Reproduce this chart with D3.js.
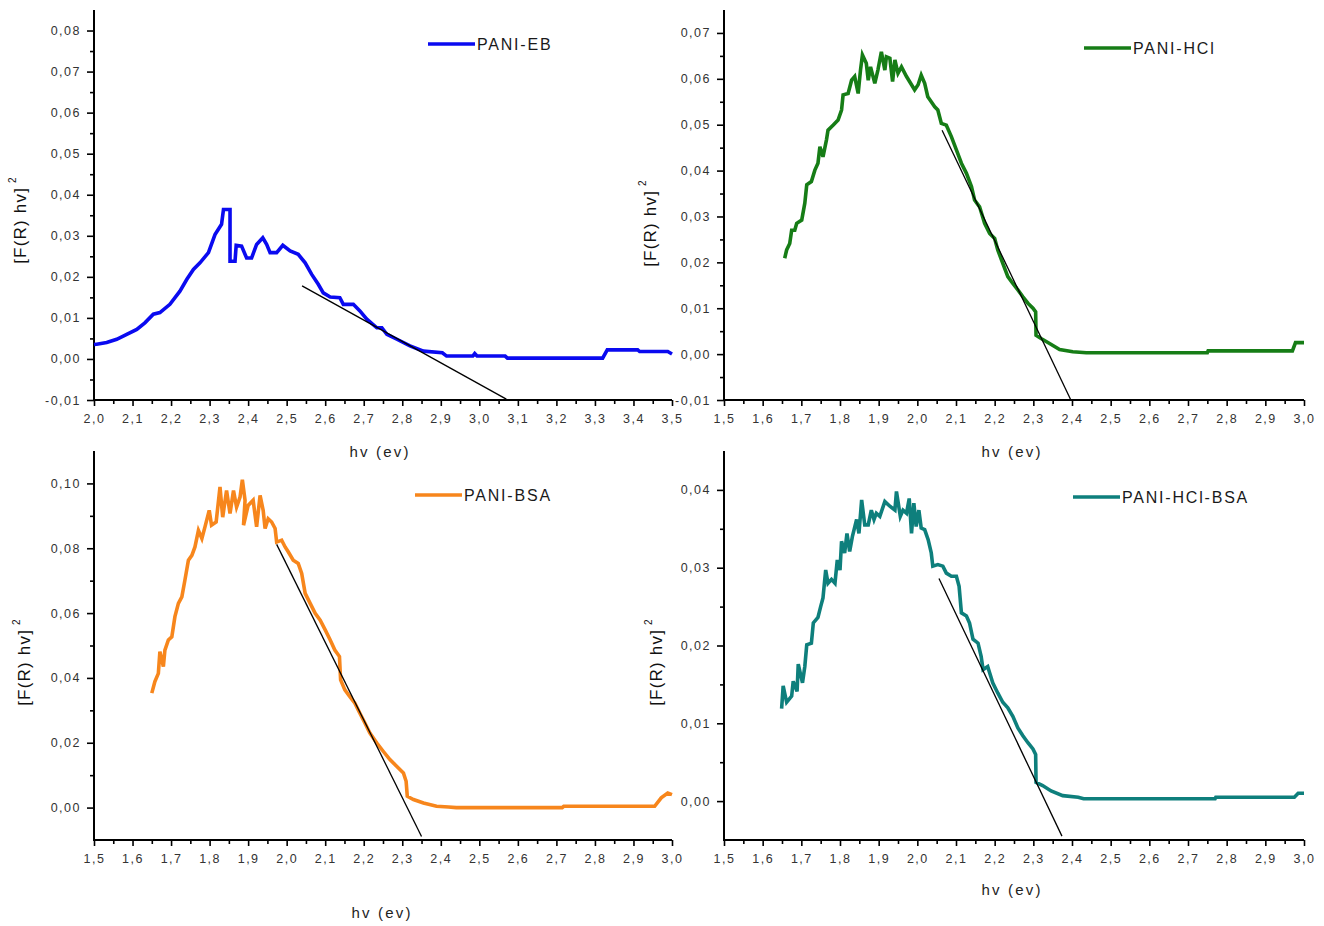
<!DOCTYPE html>
<html>
<head>
<meta charset="utf-8">
<script src="https://cdn.jsdelivr.net/npm/d3@7"></script>
<style>
  body { margin: 0; background: #fff; }
  svg { display: block; font-family: Arial, "Liberation Sans", sans-serif; }
</style>
</head>
<body>
<div id="chart"></div>
<script>
// ---- data: [hv (eV), [F(R) hv]^2] ----
const paniEB = [
  [2.000,0.0035],[2.007,0.0036],[2.033,0.0040],[2.059,0.0048],[2.085,0.0060],[2.111,0.0072],[2.132,0.0088],
  [2.154,0.0109],[2.171,0.0113],[2.197,0.0133],[2.223,0.0165],[2.241,0.0194],[2.258,0.0218],[2.275,0.0234],
  [2.297,0.0259],[2.314,0.0303],[2.331,0.0328],[2.336,0.0364],[2.353,0.0364],[2.353,0.0238],[2.366,0.0238],
  [2.369,0.0277],[2.383,0.0275],[2.396,0.0246],[2.409,0.0246],[2.422,0.0279],[2.438,0.0295],[2.448,0.0279],
  [2.457,0.0259],[2.474,0.0259],[2.490,0.0277],[2.509,0.0263],[2.530,0.0255],[2.548,0.0234],[2.565,0.0206],
  [2.582,0.0182],[2.595,0.0161],[2.613,0.0151],[2.638,0.0149],[2.647,0.0133],[2.673,0.0133],[2.690,0.0117],
  [2.708,0.0097],[2.734,0.0076],[2.747,0.0076],[2.760,0.0060],[2.786,0.0048],[2.820,0.0032],[2.855,0.0019],
  [2.904,0.0015],[2.915,0.0007],[2.983,0.0007],[2.988,0.0013],[2.994,0.0007],[3.067,0.0007],[3.073,0.0002],
  [3.320,0.0002],[3.332,0.0022],[3.411,0.0022],[3.416,0.0018],[3.489,0.0018],[3.500,0.0012]
];
const paniHCl = [
  [1.657,0.0209],[1.662,0.0227],[1.670,0.0241],[1.675,0.0270],[1.683,0.0270],[1.688,0.0285],[1.701,0.0292],
  [1.709,0.0329],[1.714,0.0369],[1.726,0.0376],[1.735,0.0401],[1.743,0.0416],[1.748,0.0452],[1.756,0.0430],
  [1.765,0.0467],[1.769,0.0488],[1.782,0.0499],[1.795,0.0510],[1.804,0.0532],[1.808,0.0565],[1.821,0.0568],
  [1.830,0.0597],[1.838,0.0605],[1.847,0.0568],[1.853,0.0619],[1.858,0.0652],[1.868,0.0634],[1.873,0.0597],
  [1.879,0.0626],[1.890,0.0590],[1.898,0.0619],[1.907,0.0659],[1.916,0.0619],[1.920,0.0648],[1.929,0.0645],
  [1.936,0.0594],[1.942,0.0641],[1.950,0.0612],[1.959,0.0626],[1.972,0.0605],[1.985,0.0587],[1.993,0.0576],
  [2.002,0.0587],[2.010,0.0608],[2.019,0.0590],[2.027,0.0561],[2.036,0.0550],[2.045,0.0539],[2.053,0.0532],
  [2.062,0.0503],[2.075,0.0499],[2.088,0.0474],[2.101,0.0445],[2.114,0.0416],[2.127,0.0394],[2.140,0.0365],
  [2.148,0.0336],[2.161,0.0321],[2.174,0.0285],[2.187,0.0263],[2.200,0.0252],[2.208,0.0227],[2.221,0.0198],
  [2.234,0.0169],[2.247,0.0154],[2.260,0.0140],[2.273,0.0125],[2.286,0.0111],[2.299,0.0100],[2.306,0.0092],
  [2.307,0.0041],[2.320,0.0034],[2.342,0.0023],[2.368,0.0010],[2.402,0.0005],[2.437,0.0003],[2.750,0.0003],
  [2.752,0.0007],[2.970,0.0007],[2.978,0.0025],[3.000,0.0025]
];
const paniBSA = [
  [1.650,0.0353],[1.658,0.0389],[1.667,0.0414],[1.671,0.0481],[1.680,0.0435],[1.684,0.0486],[1.693,0.0517],
  [1.702,0.0527],[1.710,0.0589],[1.719,0.0630],[1.728,0.0650],[1.736,0.0702],[1.745,0.0763],[1.754,0.0778],
  [1.762,0.0804],[1.771,0.0855],[1.780,0.0830],[1.788,0.0866],[1.799,0.0917],[1.805,0.0871],[1.817,0.0881],
  [1.827,0.0989],[1.834,0.0896],[1.844,0.0978],[1.853,0.0907],[1.862,0.0978],[1.870,0.0927],[1.879,0.0958],
  [1.885,0.1011],[1.892,0.0948],[1.888,0.0871],[1.900,0.0932],[1.913,0.0948],[1.922,0.0866],[1.931,0.0963],
  [1.939,0.0917],[1.944,0.0861],[1.952,0.0891],[1.961,0.0881],[1.970,0.0861],[1.974,0.0819],[1.987,0.0825],
  [1.996,0.0804],[2.004,0.0789],[2.017,0.0763],[2.030,0.0753],[2.039,0.0722],[2.048,0.0661],[2.061,0.0630],
  [2.074,0.0599],[2.087,0.0578],[2.100,0.0548],[2.113,0.0517],[2.125,0.0486],[2.137,0.0466],[2.140,0.0394],
  [2.151,0.0363],[2.164,0.0342],[2.177,0.0322],[2.190,0.0291],[2.203,0.0261],[2.216,0.0230],[2.234,0.0199],
  [2.251,0.0173],[2.268,0.0148],[2.286,0.0127],[2.303,0.0107],[2.310,0.0081],[2.313,0.0035],[2.329,0.0025],
  [2.355,0.0014],[2.389,0.0004],[2.420,0.0002],[2.440,0.0000],[2.715,0.0000],[2.719,0.0004],[2.955,0.0004],
  [2.972,0.0030],[2.989,0.0045],[3.000,0.0040]
];
const paniHClBSA = [
  [1.649,0.0119],[1.653,0.0148],[1.662,0.0127],[1.675,0.0135],[1.679,0.0154],[1.689,0.0141],[1.692,0.0176],
  [1.703,0.0152],[1.709,0.0173],[1.714,0.0201],[1.726,0.0203],[1.731,0.0229],[1.743,0.0236],[1.750,0.0250],
  [1.756,0.0261],[1.763,0.0297],[1.769,0.0280],[1.778,0.0285],[1.787,0.0280],[1.793,0.0310],[1.800,0.0297],
  [1.804,0.0334],[1.812,0.0319],[1.818,0.0344],[1.825,0.0321],[1.832,0.0340],[1.843,0.0362],[1.849,0.0344],
  [1.856,0.0387],[1.864,0.0355],[1.873,0.0355],[1.881,0.0374],[1.888,0.0362],[1.894,0.0370],[1.903,0.0366],
  [1.916,0.0385],[1.929,0.0379],[1.942,0.0374],[1.946,0.0398],[1.956,0.0366],[1.963,0.0374],[1.972,0.0370],
  [1.979,0.0389],[1.985,0.0344],[1.991,0.0383],[1.997,0.0353],[2.004,0.0374],[2.010,0.0351],[2.019,0.0349],
  [2.028,0.0336],[2.036,0.0319],[2.040,0.0302],[2.053,0.0304],[2.066,0.0302],[2.075,0.0293],[2.088,0.0289],
  [2.101,0.0289],[2.108,0.0276],[2.114,0.0242],[2.127,0.0238],[2.135,0.0229],[2.144,0.0208],[2.157,0.0203],
  [2.165,0.0186],[2.170,0.0169],[2.182,0.0173],[2.195,0.0152],[2.208,0.0139],[2.221,0.0127],[2.234,0.0120],
  [2.247,0.0109],[2.260,0.0094],[2.273,0.0084],[2.286,0.0075],[2.299,0.0067],[2.306,0.0060],[2.307,0.0024],
  [2.324,0.0020],[2.346,0.0013],[2.376,0.0007],[2.416,0.0005],[2.430,0.0003],[2.770,0.0003],[2.772,0.0005],
  [2.975,0.0005],[2.985,0.0010],[3.000,0.0010]
];

// tangent (band-gap) lines
const tangentEB = [[2.54, 0.0178], [3.07, -0.0098]];
const tangentHCl = [[2.064, 0.0488], [2.397, -0.0100]];
const tangentBSA = [[1.974, 0.0812], [2.350, -0.0089]];
const tangentHClBSA = [[2.056, 0.0286], [2.374, -0.0045]];

// tick labels
const xTicksEB = [2.0, 2.1, 2.2, 2.3, 2.4, 2.5, 2.6, 2.7, 2.8, 2.9, 3.0, 3.1, 3.2, 3.3, 3.4, 3.5];
const xTicksOther = [1.5, 1.6, 1.7, 1.8, 1.9, 2.0, 2.1, 2.2, 2.3, 2.4, 2.5, 2.6, 2.7, 2.8, 2.9, 3.0];
const yTicksEB = [-0.01, 0.00, 0.01, 0.02, 0.03, 0.04, 0.05, 0.06, 0.07, 0.08];
const yTicksHCl = [-0.01, 0.00, 0.01, 0.02, 0.03, 0.04, 0.05, 0.06, 0.07];
const yTicksBSA = [0.00, 0.02, 0.04, 0.06, 0.08, 0.10];
const yTicksHClBSA = [0.00, 0.01, 0.02, 0.03, 0.04];

const seriesNames = ["PANI-EB", "PANI-HCl", "PANI-BSA", "PANI-HCl-BSA"];
const seriesColors = ["#0a0af0", "#167d16", "#f7861c", "#0e7f7c"];

// panel layout
const panels = [
  { data: paniEB, tangent: tangentEB, name: seriesNames[0], color: seriesColors[0],
    left: 94, right: 672, top: 10, bottom: 400, xDomain: [2.0, 3.5], yDomain: [-0.01, 0.085],
    xTicks: xTicksEB, yTicks: yTicksEB, yMinor: 0.005,
    legend: [428, 44], xLab: [380, 457], yLab: [26, 220] },
  { data: paniHCl, tangent: tangentHCl, name: seriesNames[1], color: seriesColors[1],
    left: 724, right: 1304, top: 10, bottom: 400, xDomain: [1.5, 3.0], yDomain: [-0.01, 0.075],
    xTicks: xTicksOther, yTicks: yTicksHCl, yMinor: 0.005,
    legend: [1084, 48], xLab: [1012, 457], yLab: [656, 223] },
  { data: paniBSA, tangent: tangentBSA, name: seriesNames[2], color: seriesColors[2],
    left: 94, right: 672, top: 451, bottom: 840, xDomain: [1.5, 3.0], yDomain: [-0.01, 0.11],
    xTicks: xTicksOther, yTicks: yTicksBSA, yMinor: 0.01,
    legend: [415, 495], xLab: [382, 918], yLab: [30, 662] },
  { data: paniHClBSA, tangent: tangentHClBSA, name: seriesNames[3], color: seriesColors[3],
    left: 724, right: 1304, top: 451, bottom: 840, xDomain: [1.5, 3.0], yDomain: [-0.005, 0.045],
    xTicks: xTicksOther, yTicks: yTicksHClBSA, yMinor: 0.005,
    legend: [1073, 497], xLab: [1012, 895], yLab: [662, 662] }
];

const svg = d3.select("#chart").append("svg")
  .attr("width", 1324)
  .attr("height", 926);

// comma decimal, plain hyphen
const fmt = f => d => d3.format(f)(d).replace("\u2212", "-").replace(".", ",");

panels.forEach(p => {
  const x = d3.scaleLinear().domain(p.xDomain).range([p.left, p.right]);
  const y = d3.scaleLinear().domain(p.yDomain).range([p.bottom, p.top]);
  const g = svg.append("g");

  // minor ticks
  const xMinor = d3.range(p.xDomain[0] + 0.05, p.xDomain[1], 0.1);
  const yMinor = d3.range(p.yTicks[0] - p.yMinor, p.yDomain[1], p.yMinor * 2)
    .filter(v => v > p.yDomain[0] + 1e-9);

  g.append("g")
    .attr("transform", `translate(0,${p.bottom})`)
    .call(d3.axisBottom(x).tickValues(xMinor).tickSize(4).tickFormat(""))
    .call(a => a.select(".domain").remove())
    .selectAll("line").attr("stroke", "#000").attr("stroke-width", 1.6);

  g.append("g")
    .attr("transform", `translate(${p.left},0)`)
    .call(d3.axisLeft(y).tickValues(yMinor).tickSize(4).tickFormat(""))
    .call(a => a.select(".domain").remove())
    .selectAll("line").attr("stroke", "#000").attr("stroke-width", 1.6);

  // major ticks + labels
  const xAx = g.append("g")
    .attr("transform", `translate(0,${p.bottom})`)
    .call(d3.axisBottom(x).tickValues(p.xTicks).tickSize(6).tickSizeOuter(0).tickPadding(8).tickFormat(fmt(".1f")));
  const yAx = g.append("g")
    .attr("transform", `translate(${p.left},0)`)
    .call(d3.axisLeft(y).tickValues(p.yTicks).tickSize(7).tickSizeOuter(0).tickPadding(6).tickFormat(fmt(".2f")));

  [xAx, yAx].forEach(a => {
    a.select(".domain").remove();
    a.selectAll("line").attr("stroke", "#000").attr("stroke-width", 1.6);
    a.selectAll("text")
      .attr("fill", "#333")
      .style("font-size", "12.5px")
      .style("letter-spacing", "1.5px");
  });

  // axis lines
  g.append("line")
    .attr("x1", p.left).attr("x2", p.left)
    .attr("y1", p.top).attr("y2", p.bottom + 1)
    .attr("stroke", "#000").attr("stroke-width", 2);
  g.append("line")
    .attr("x1", p.left - 1).attr("x2", p.right)
    .attr("y1", p.bottom).attr("y2", p.bottom)
    .attr("stroke", "#000").attr("stroke-width", 2);

  // series
  const line = d3.line().x(d => x(d[0])).y(d => y(d[1]));
  g.append("path")
    .datum(p.data)
    .attr("fill", "none")
    .attr("stroke", p.color)
    .attr("stroke-width", 3.6)
    .attr("stroke-linejoin", "miter")
    .attr("d", line);

  // tangent
  g.append("path")
    .datum(p.tangent)
    .attr("fill", "none")
    .attr("stroke", "#000")
    .attr("stroke-width", 1.3)
    .attr("d", line);

  // legend
  g.append("line")
    .attr("x1", p.legend[0]).attr("x2", p.legend[0] + 47)
    .attr("y1", p.legend[1]).attr("y2", p.legend[1])
    .attr("stroke", p.color).attr("stroke-width", 3.6);
  g.append("text")
    .attr("x", p.legend[0] + 49)
    .attr("y", p.legend[1] + 6)
    .attr("fill", "#1a1a1a")
    .style("font-size", "16px")
    .style("letter-spacing", "1.8px")
    .text(p.name);

  // axis titles
  g.append("text")
    .attr("x", p.xLab[0]).attr("y", p.xLab[1])
    .attr("text-anchor", "middle")
    .attr("fill", "#222")
    .style("font-size", "15px")
    .style("letter-spacing", "2.2px")
    .text("hv (ev)");

  const yt = g.append("text")
    .attr("transform", `translate(${p.yLab[0]},${p.yLab[1]}) rotate(-90)`)
    .attr("text-anchor", "middle")
    .attr("fill", "#111")
    .style("font-size", "17px")
    .style("letter-spacing", "1.2px");
  yt.append("tspan").text("[F(R) hv]");
  yt.append("tspan").attr("dx", 4).attr("dy", -10).style("font-size", "10px").text("2");
});
</script>
</body>
</html>
